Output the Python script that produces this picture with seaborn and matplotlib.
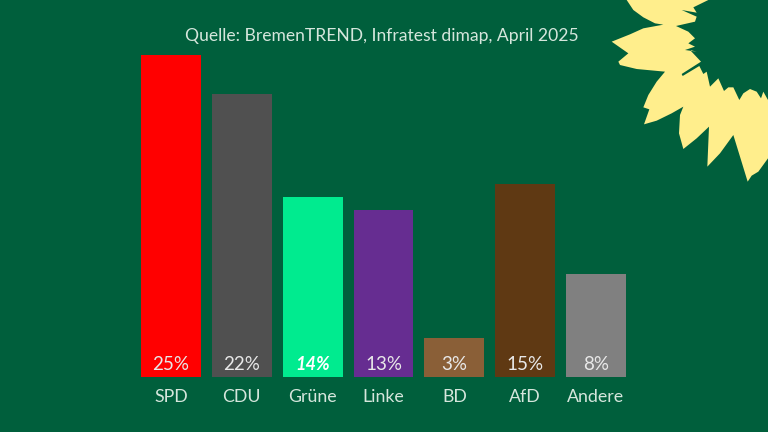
import matplotlib
matplotlib.use("Agg")
import matplotlib.pyplot as plt
from matplotlib.patches import Polygon
import pandas as pd
import seaborn as sns

parties = ["SPD", "CDU", "Grüne", "Linke", "BD", "AfD", "Andere"]
shares = [25, 22, 14, 13, 3, 15, 8]
colors = ["#ff0000", "#505050", "#00eb8f", "#662d91", "#8a5f37", "#5f3913", "#808080"]
title = "Quelle: BremenTREND, Infratest dimap, April 2025"

bg = "#005f3c"
text_col = "#d5e6dc"

sns.set_theme(style="white")
plt.rcParams["font.family"] = ["Lato", "DejaVu Sans"]

df = pd.DataFrame({"party": parties, "share": shares})

fig = plt.figure(figsize=(7.68, 4.32), dpi=100, facecolor=bg)
# axes placed by pixel: bars run from x=141 to 626, baseline at y=377
ax = fig.add_axes([141 / 768, (432 - 377) / 432, 485 / 768, 322 / 432])
ax.set_facecolor(bg)
sns.barplot(data=df, x="party", y="share", hue="party", palette=colors,
            legend=False, width=0.847, saturation=1, linewidth=0, ax=ax)
ax.set_xlim(-0.4235, 6.4235)
ax.set_ylim(0, 25)
ax.set_xlabel("")
ax.set_ylabel("")
ax.set_yticks([])
ax.tick_params(axis="x", length=0, pad=9, labelsize=12.8, labelcolor=text_col)
sns.despine(left=True, bottom=True)

for i, v in enumerate(shares):
    if parties[i] == "Grüne":
        ax.text(i, 0.3, f"{v}%", ha="center", va="bottom", color="white",
                fontsize=13, fontweight="bold", fontstyle="italic")
    else:
        ax.text(i, 0.3, f"{v}%", ha="center", va="bottom", color="#e8e8e8", fontsize=13.5)

fig.text(381.5 / 768, 1 - 36 / 432, title, ha="center", va="center",
         color=text_col, fontsize=12.6)

# sunflower decoration in the corner, outline traced in pixels of the 3x crop
flower = [(80, 0), (100, 30), (130, 52), (165, 70), (190, 74), (130, 85), (90, 103), (35, 125),
          (85, 160), (55, 185), (60, 195), (110, 207), (195, 215), (170, 245), (145, 285),
          (130, 322), (148, 328), (132, 373), (170, 362), (215, 340), (250, 320), (240, 345),
          (237, 400), (250, 447), (290, 415), (327, 380), (322, 500), (360, 460), (400, 405),
          (420, 470), (443, 545), (455, 527), (475, 515), (504, 475), (504, 300), (490, 275),
          (483, 295), (470, 275), (450, 267), (430, 280), (418, 300), (400, 262), (385, 262),
          (372, 273), (355, 235), (330, 260), (320, 215), (310, 222), (298, 198), (248, 228),
          (245, 222), (303, 185), (270, 150), (290, 155), (255, 150), (285, 140), (265, 130),
          (285, 115), (265, 95), (228, 78), (285, 65), (290, 50), (245, 30), (290, 38),
          (280, 22), (325, 0)]
pts = [((600 + x / 3) / 768, 1 - (y / 3) / 432) for x, y in flower]
fig.add_artist(Polygon(pts, closed=True, transform=fig.transFigure, facecolor="#ffee8c",
                       edgecolor="none"))

fig.savefig("out.png", dpi=100, facecolor=bg)
